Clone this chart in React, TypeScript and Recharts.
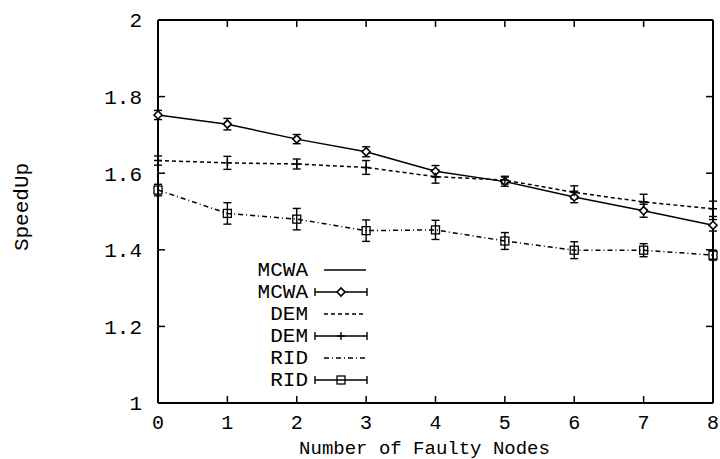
import React from 'react';
import { LineChart, Line, XAxis, YAxis, ErrorBar, Legend } from 'recharts';

// values
const nodes = [0, 1, 2, 3, 4, 5, 6, 7, 8];
const mcwa = [1.752, 1.728, 1.689, 1.656, 1.605, 1.578, 1.538, 1.502, 1.464];
const mcwaErr = [0.012, 0.015, 0.012, 0.013, 0.015, 0.012, 0.015, 0.017, 0.015];
const dem = [1.633, 1.627, 1.624, 1.615, 1.591, 1.582, 1.55, 1.525, 1.507];
const demErr = [0.012, 0.017, 0.013, 0.018, 0.017, 0.01, 0.017, 0.02, 0.02];
const rid = [1.556, 1.495, 1.48, 1.45, 1.452, 1.423, 1.399, 1.399, 1.386];
const ridErr = [0.015, 0.028, 0.028, 0.028, 0.025, 0.022, 0.022, 0.017, 0.013];
const yTicks = [1, 1.2, 1.4, 1.6, 1.8, 2];

const data = nodes.map((n, i) => ({
  n,
  mcwa: mcwa[i],
  mcwaErr: mcwaErr[i],
  dem: dem[i],
  demErr: demErr[i],
  rid: rid[i],
  ridErr: ridErr[i],
}));

const FONT = '"Liberation Mono", "DejaVu Sans Mono", monospace';
const tickStyle = { fill: '#000', fontSize: 21, fontFamily: FONT };

const Diamond = ({ cx, cy }: any) => (
  <path d={`M${cx - 4},${cy} L${cx},${cy - 4} L${cx + 4},${cy} L${cx},${cy + 4} Z`} fill="#fff" stroke="#000" strokeWidth={1.6} />
);
const Plus = ({ cx, cy }: any) => (
  <path d={`M${cx - 4},${cy} H${cx + 4} M${cx},${cy - 4} V${cy + 4}`} stroke="#000" strokeWidth={1.4} fill="none" />
);
const Square = ({ cx, cy }: any) => (
  <rect x={cx - 4} y={cy - 4} width={8} height={8} fill="none" stroke="#000" strokeWidth={1.3} />
);

const rows = [
  { name: 'MCWA', kind: 'line', dash: undefined },
  { name: 'MCWA', kind: 'err', marker: Diamond },
  { name: 'DEM', kind: 'line', dash: '4 3' },
  { name: 'DEM', kind: 'err', marker: Plus },
  { name: 'RID', kind: 'line', dash: '5 3 1 3' },
  { name: 'RID', kind: 'err', marker: Square },
];

const LegendBox = () => (
  <svg width={140} height={136}>
    {rows.map((r: any, i) => {
      const y = 12 + i * 22;
      return (
        <g key={i}>
          <text x={68} y={y} textAnchor="end" dominantBaseline="central" fontFamily={FONT} fontSize={21} fill="#000">
            {r.name}
          </text>
          {r.kind === 'line' ? (
            <line x1={84} x2={126} y1={y} y2={y} stroke="#000" strokeWidth={1.4} strokeDasharray={r.dash} />
          ) : (
            <g>
              <path d={`M75,${y} H127 M75,${y - 4} V${y + 4} M127,${y - 4} V${y + 4}`} stroke="#000" strokeWidth={1.4} fill="none" />
              <r.marker cx={101} cy={y} />
            </g>
          )}
        </g>
      );
    })}
  </svg>
);

const frameAxis = {
  axisLine: { stroke: '#000', strokeWidth: 2 },
  tickLine: { stroke: '#000', strokeWidth: 1.5 },
};

export default function App() {
  return (
    <div style={{ position: 'absolute', left: 0, top: 0, background: '#fff' }}>
      <LineChart width={720} height={459} data={data} margin={{ top: 19, right: 6, bottom: 0, left: 0 }}>
        <XAxis
          dataKey="n"
          type="number"
          domain={[0, 8]}
          ticks={nodes}
          height={56}
          tickSize={-7}
          tickMargin={19}
          tick={{ ...tickStyle, fontSize: 20 }}
          {...frameAxis}
          label={{ value: 'Number of Faulty Nodes', position: 'insideBottom', offset: 5, dx: -11, fill: '#000', fontSize: 19, fontFamily: FONT }}
        />
        <XAxis
          xAxisId="top"
          dataKey="n"
          orientation="top"
          type="number"
          domain={[0, 8]}
          ticks={nodes}
          allowDataOverflow
          height={1}
          tickSize={-7}
          tickFormatter={() => ''}
          {...frameAxis}
        />
        <YAxis
          type="number"
          domain={[1, 2]}
          ticks={yTicks}
          width={158}
          tickSize={-7}
          tickMargin={23}
          tick={tickStyle}
          {...frameAxis}
          label={{
            content: () => (
              <text x={22} y={207} transform="rotate(-90, 22, 207)" textAnchor="middle" dominantBaseline="central" fontFamily={FONT} fontSize={21} fill="#000">
                SpeedUp
              </text>
            ),
          }}
        />
        <YAxis
          yAxisId="right"
          orientation="right"
          type="number"
          domain={[1, 2]}
          ticks={yTicks}
          allowDataOverflow
          width={1}
          tickSize={-7}
          tickFormatter={() => ''}
          {...frameAxis}
        />
        <Legend
          layout="vertical"
          align="center"
          verticalAlign="middle"
          wrapperStyle={{ left: 240, top: 258, width: 140, height: 136 }}
          content={() => <LegendBox />}
        />
        {/* invisible series so the mirrored top/right axes get drawn */}
        <Line xAxisId="top" yAxisId="right" dataKey="mcwa" stroke="none" dot={false} activeDot={false} isAnimationActive={false} legendType="none" />
        <Line dataKey="mcwa" stroke="#000" strokeWidth={1.5} dot={<Diamond />} activeDot={false} isAnimationActive={false} legendType="none">
          <ErrorBar dataKey="mcwaErr" direction="y" width={4} stroke="#000" strokeWidth={1.4} />
        </Line>
        <Line dataKey="dem" stroke="#000" strokeWidth={1.5} strokeDasharray="4 3" dot={<Plus />} activeDot={false} isAnimationActive={false} legendType="none">
          <ErrorBar dataKey="demErr" direction="y" width={4} stroke="#000" strokeWidth={1.4} />
        </Line>
        <Line dataKey="rid" stroke="#000" strokeWidth={1.5} strokeDasharray="5 3 1 3" dot={<Square />} activeDot={false} isAnimationActive={false} legendType="none">
          <ErrorBar dataKey="ridErr" direction="y" width={4} stroke="#000" strokeWidth={1.4} />
        </Line>
      </LineChart>
    </div>
  );
}
